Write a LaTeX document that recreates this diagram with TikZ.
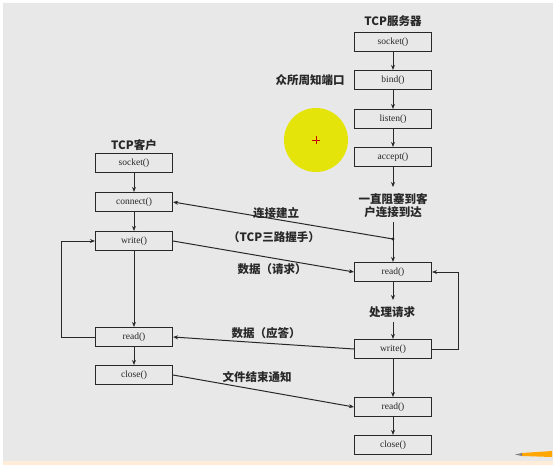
\documentclass[tikz,border=0pt]{standalone}
\usepackage{fontspec}
\setmainfont{Liberation Serif}
\newfontfamily\cjk{Noto Sans CJK SC}
\usetikzlibrary{arrows.meta}
\definecolor{bg}{RGB}{232,232,232}
\definecolor{ink}{RGB}{40,40,40}
\definecolor{hl}{RGB}{228,228,10}
\tikzset{
  fn/.style={draw=ink, line width=1.1pt, fill=bg, minimum width=77pt, minimum height=19pt, inner sep=0pt, font=\fontsize{9.5}{10}\selectfont, text=ink},
  lbl/.style={font=\cjk\bfseries\fontsize{11.5}{13}\selectfont, text=ink, inner sep=1pt},
  conn/.style={draw=ink, line width=1pt, -{Stealth[length=5pt,width=4pt]}},
  plain/.style={draw=ink, line width=1pt}
}
\begin{document}
\begin{tikzpicture}[x=1pt,y=-1pt]
\useasboundingbox (0,0) rectangle (558,467);
\fill[white] (0,0) rectangle (558,467);
\fill[bg] (3,3) rectangle (553,461);
\fill[orange!15] (3,461) rectangle (553,465);
% highlight
\fill[hl] (316,140) circle (32);
\draw[red!80!black, line width=1pt] (312,140) -- (320,140) (316,136) -- (316,144);
% pencil
\fill[orange!70!yellow] (522,453) -- (552,451) -- (552,457) -- (522,456) -- cycle;
\fill[gray] (515,454.5) -- (522,453) -- (522,456) -- cycle;

% server column
\node[lbl] (tsrv) at (393,21) {TCP服务器};
\node[fn] (ssocket) at (393,42) {socket()};
\node[fn] (sbind) at (393,80) {bind()};
\node[fn] (slisten) at (393,119) {listen()};
\node[fn] (saccept) at (393,157) {accept()};
\node[lbl] (port) at (310,80) {众所周知端口};
\node[lbl, align=center] (block) at (393,206) {一直阻塞到客\\户连接到达};
\node[fn] (sread) at (393,272) {read()};
\node[lbl] (proc) at (392,312) {处理请求};
\node[fn] (swrite) at (393,349) {write()};
\node[fn] (sread2) at (393,407) {read()};
\node[fn] (sclose) at (393,445) {close()};
\coordinate (acc_end) at (393,187);
\coordinate (blk_start) at (393,222);
\coordinate (junc) at (393,239);
\coordinate (r_end) at (393,300);
\coordinate (p_start) at (393,322);

% client column
\node[lbl] (tcli) at (134,145) {TCP客户};
\node[fn] (csocket) at (134,163) {socket()};
\node[fn] (cconnect) at (134,202) {connect()};
\node[fn] (cwrite) at (134,241) {write()};
\node[fn] (cread) at (134,337) {read()};
\node[fn] (cclose) at (134,375) {close()};

% labels on connectors
\node[lbl] (l1) at (276,213) {连接建立};
\node[lbl] (l2) at (274,237) {（TCP三路握手）};
\node[lbl] (l3) at (272,269) {数据（请求）};
\node[lbl] (l4) at (266,333) {数据（应答）};
\node[lbl] (l5) at (257,377) {文件结束通知};

% server vertical arrows
\draw[conn] (ssocket) -- (sbind);
\draw[conn] (sbind) -- (slisten);
\draw[conn] (slisten) -- (saccept);
\draw[conn] (saccept) -- (acc_end);
\draw[conn] (blk_start) -- (sread);
\draw[conn] (sread) -- (r_end);
\draw[conn] (p_start) -- (swrite);
\draw[conn] (swrite) -- (sread2);
\draw[conn] (sread2) -- (sclose);
\fill[ink] (junc) circle (1.6);

% client vertical arrows
\draw[conn] (csocket) -- (cconnect);
\draw[conn] (cconnect) -- (cwrite);
\draw[conn] (cwrite) -- (cread);
\draw[conn] (cread) -- (cclose);

% cross connectors
\draw[conn] (junc) -- (cconnect.east);
\draw[conn] (cwrite.east) -- (sread.west);
\draw[conn] (swrite.west) -- (cread.east);
\draw[conn] (cclose.east) -- (sread2.west);

% loops
\draw[conn] (cread.west) -- (61,337) |- (cwrite.west);
\draw[conn] (swrite.east) -- (458,349) |- (sread.east);
\end{tikzpicture}
\end{document}
